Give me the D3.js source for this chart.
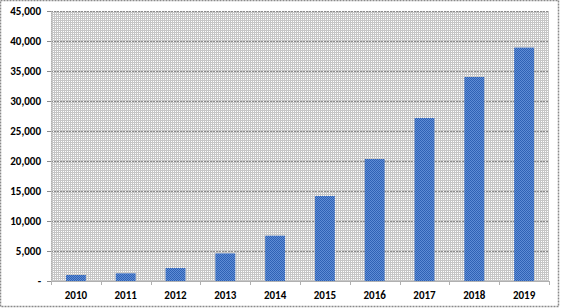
<!DOCTYPE html>
<html><head><meta charset="utf-8">
<script src="https://cdn.jsdelivr.net/npm/d3@7"></script>
<style>
html,body{margin:0;padding:0;background:#fff;}
svg{display:block;}
text{font-family:Carlito,"Liberation Sans",Arial,sans-serif;font-weight:bold;font-size:11px;fill:#000;}
</style></head><body>
<script>
const categories = ["2010","2011","2012","2013","2014","2015","2016","2017","2018","2019"];
const values = [1000,1280,2170,4600,7550,14170,20330,27170,34000,38900];
const yTicks = [0,5000,10000,15000,20000,25000,30000,35000,40000,45000];

const W=561,H=308;
const m={left:51,right:12,top:11,bottom:27};
const svg=d3.select("body").append("svg").attr("width",W).attr("height",H);
const defs=svg.append("defs");
const pp=defs.append("pattern").attr("id","plotpat").attr("width",2).attr("height",2).attr("patternUnits","userSpaceOnUse");
pp.append("rect").attr("width",2).attr("height",2).attr("fill","#c6c6c6");
pp.append("rect").attr("x",1).attr("y",1).attr("width",1).attr("height",1).attr("fill","#ffffff");
const bp=defs.append("pattern").attr("id","barpat").attr("width",2).attr("height",2).attr("patternUnits","userSpaceOnUse");
bp.append("rect").attr("width",2).attr("height",2).attr("fill","#2f62b4");
bp.append("rect").attr("x",1).attr("y",0).attr("width",1).attr("height",1).attr("fill","#5e8cd6");
bp.append("rect").attr("x",0).attr("y",1).attr("width",1).attr("height",1).attr("fill","#5e8cd6");

// outer border
svg.append("rect").attr("x",0.5).attr("y",0.5).attr("width",W-3).attr("height",H-2)
  .attr("fill","#fff").attr("stroke","#8a8a8a").attr("stroke-width",1.5).attr("stroke-dasharray","2,1");

const x=d3.scaleBand().domain(categories).range([m.left,W-m.right]).paddingInner(0.6).paddingOuter(0.3);
const y=d3.scaleLinear().domain([0,45000]).range([H-m.bottom,m.top]);

svg.append("rect").attr("x",m.left).attr("y",m.top).attr("width",W-m.left-m.right).attr("height",y(0)-m.top).attr("fill","url(#plotpat)");

// gridlines
svg.append("g").selectAll("line").data(yTicks.filter(d=>d>0)).join("line")
  .attr("x1",m.left).attr("x2",W-m.right).attr("y1",d=>Math.round(y(d))+0.5).attr("y2",d=>Math.round(y(d))+0.5)
  .attr("stroke","#8c8c8c").attr("stroke-width",1).attr("stroke-dasharray","2,1");

// bars
svg.append("g").selectAll("rect").data(values).join("rect")
  .attr("x",(d,i)=>x(categories[i])).attr("width",x.bandwidth())
  .attr("y",d=>y(d)).attr("height",d=>y(0)-y(d)).attr("fill","url(#barpat)");

// y axis
const ya=d3.axisLeft(y).tickValues(yTicks).tickSize(4).tickPadding(6)
  .tickFormat(d=>d===0?"-":d3.format(",")(d));
const gy=svg.append("g").attr("transform",`translate(${m.left},0)`).call(ya);
gy.select(".domain").attr("stroke","#b0b0b0").attr("stroke-dasharray","1,1");
gy.selectAll(".tick line").attr("stroke","#8c8c8c");
gy.selectAll("text").attr("dy","0.35em");

// x axis
const gx=svg.append("g").attr("transform",`translate(0,${y(0)})`);
gx.append("line").attr("x1",m.left).attr("x2",W-m.right).attr("y1",0.5).attr("y2",0.5).attr("stroke","#b0b0b0");
const bounds=d3.range(categories.length+1).map(i=>m.left+i*(W-m.left-m.right)/categories.length);
gx.selectAll("line.t").data(bounds).join("line").attr("class","t")
  .attr("x1",d=>Math.round(d)+0.5).attr("x2",d=>Math.round(d)+0.5).attr("y1",0).attr("y2",4).attr("stroke","#b0b0b0");
gx.selectAll("text").data(categories).join("text")
  .attr("x",d=>x(d)+x.bandwidth()/2).attr("y",18).attr("text-anchor","middle").text(d=>d);
</script>
</body></html>
